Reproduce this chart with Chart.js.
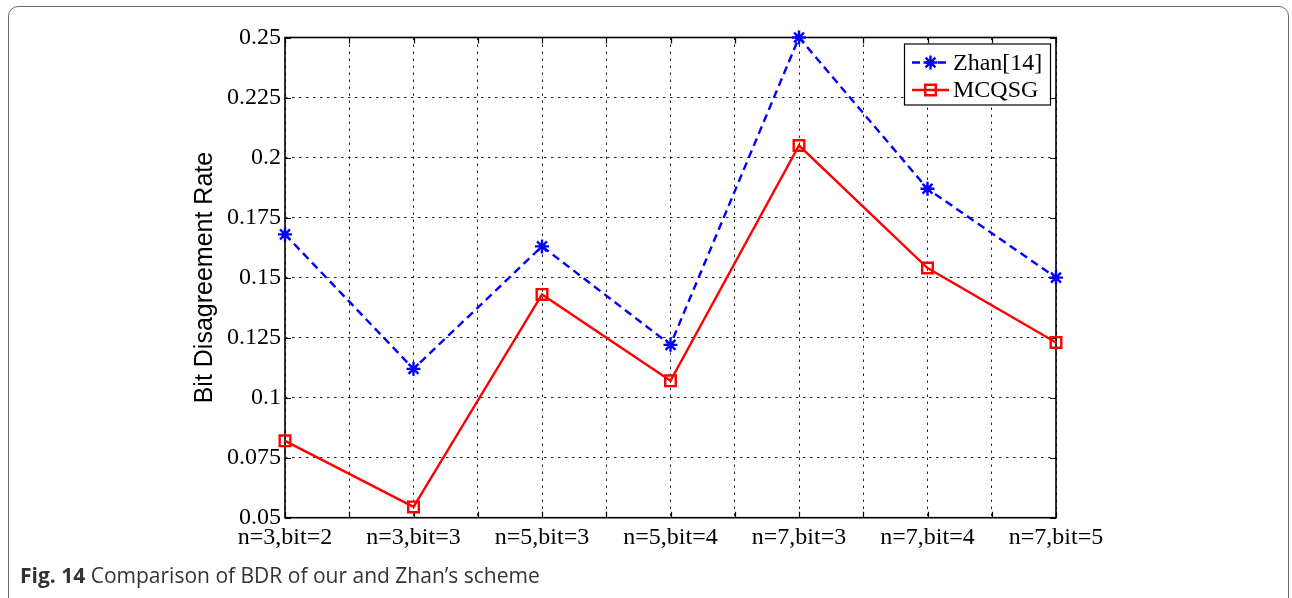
<!DOCTYPE html>
<html>
<head>
<meta charset="utf-8">
<script src="https://cdn.jsdelivr.net/npm/chart.js@4.4.0/dist/chart.umd.min.js"></script>
<style>
  html, body { margin: 0; padding: 0; background: #fff; overflow: hidden; width: 1292px; height: 598px; }
  #frame { position: absolute; left: 8px; top: 6px; width: 1281px; height: 720px;
           border: 1px solid #6b6b6b; border-radius: 10px; box-sizing: border-box; }
  #wrap { position: absolute; left: 0; top: 0; width: 1292px; height: 598px; }
  #caption { position: absolute; left: 20px; top: 561px; font-family: "Open Sans", sans-serif;
             font-size: 21px; color: #333; white-space: nowrap; }
  #caption b { font-weight: 700; }
</style>
</head>
<body>
<div id="frame"></div>
<div id="wrap"><canvas id="c" width="1292" height="598"></canvas></div>
<div id="caption"><b>Fig. 14</b> Comparison of BDR of our and Zhan’s scheme</div>
<script>
// Parameter settings on the x axis
const categories = ['n=3,bit=2', 'n=3,bit=3', 'n=5,bit=3', 'n=5,bit=4', 'n=7,bit=3', 'n=7,bit=4', 'n=7,bit=5'];
// Bit disagreement rate of each scheme
const zhanValues  = [0.168, 0.112, 0.163, 0.122, 0.250, 0.187, 0.150];
const mcqsgValues = [0.082, 0.0545, 0.143, 0.107, 0.205, 0.154, 0.123];
const seriesNames = ['Zhan[14]', 'MCQSG'];
// y axis range and tick spacing
const yMin = 0.05, yMax = 0.25, yStep = 0.025;

const serif = '"Liberation Serif", "Times New Roman", serif';
const sans = '"Liberation Sans", Arial, sans-serif';

const toPoints = vals => vals.map((v, i) => ({ x: i + 1, y: v }));

// Axes box with inward tick marks on all four sides
const framePlugin = {
  id: 'frame',
  beforeDatasetsDraw(chart) {
    const { ctx, chartArea: a, scales: { x, y } } = chart;
    const len = 6;
    ctx.save();
    ctx.strokeStyle = '#000';
    ctx.lineWidth = 1.2;
    ctx.beginPath();
    x.ticks.forEach(t => {
      const px = Math.round(x.getPixelForValue(t.value)) + 0.5;
      ctx.moveTo(px, a.bottom); ctx.lineTo(px, a.bottom - len);
      ctx.moveTo(px, a.top); ctx.lineTo(px, a.top + len);
    });
    y.ticks.forEach(t => {
      const py = Math.round(y.getPixelForValue(t.value)) + 0.5;
      ctx.moveTo(a.left, py); ctx.lineTo(a.left + len, py);
      ctx.moveTo(a.right, py); ctx.lineTo(a.right - len, py);
    });
    ctx.stroke();
    ctx.lineWidth = 1.6;
    ctx.strokeRect(a.left, a.top, a.right - a.left, a.bottom - a.top);
    ctx.restore();
  }
};

// Boxed legend in the upper right corner of the plot
const legendPlugin = {
  id: 'boxLegend',
  afterDraw(chart) {
    const { ctx, chartArea: a } = chart;
    const boxR = a.right - 6, boxT = a.top + 6, boxW = 146, boxH = 61;
    const boxL = boxR - boxW;
    ctx.save();
    ctx.fillStyle = '#fff';
    ctx.fillRect(boxL, boxT, boxW, boxH);
    ctx.strokeStyle = '#000';
    ctx.lineWidth = 1.2;
    ctx.strokeRect(boxL + 0.5, boxT + 0.5, boxW, boxH);
    chart.data.datasets.forEach((ds, i) => {
      const cy = boxT + 19 + i * 27.5;
      const x0 = boxL + 8, x1 = boxL + 45, cx = (x0 + x1) / 2;
      ctx.save();
      ctx.strokeStyle = ds.borderColor;
      ctx.lineWidth = ds.borderWidth;
      ctx.setLineDash(ds.borderDash || []);
      ctx.beginPath(); ctx.moveTo(x0, cy); ctx.lineTo(x1, cy); ctx.stroke();
      ctx.restore();
      ctx.save();
      ctx.strokeStyle = ds.pointBorderColor;
      ctx.fillStyle = ds.pointBackgroundColor;
      ctx.lineWidth = ds.pointBorderWidth;
      Chart.helpers.drawPoint(ctx, { pointStyle: ds.pointStyle, radius: ds.pointRadius,
                                     borderWidth: ds.pointBorderWidth, rotation: 0 }, cx, cy);
      ctx.restore();
      ctx.fillStyle = '#000';
      ctx.font = '24px ' + serif;
      ctx.textBaseline = 'middle';
      ctx.textAlign = 'left';
      ctx.fillText(ds.label, x1 + 4, cy + 1);
    });
    ctx.restore();
  }
};

new Chart(document.getElementById('c'), {
  type: 'line',
  data: {
    datasets: [
      {
        label: seriesNames[0],
        data: toPoints(zhanValues),
        borderColor: '#0000ff',
        backgroundColor: '#0000ff',
        borderWidth: 2.4,
        borderDash: [8, 5],
        pointStyle: 'star',
        pointRadius: 7,
        pointBorderWidth: 2.4,
        pointBorderColor: '#0000ff',
        pointBackgroundColor: '#0000ff',
        tension: 0,
        clip: false
      },
      {
        label: seriesNames[1],
        data: toPoints(mcqsgValues),
        borderColor: '#ff0000',
        backgroundColor: 'rgba(0,0,0,0)',
        borderWidth: 2.4,
        pointStyle: 'rect',
        pointRadius: 7.5,
        pointBorderWidth: 2.4,
        pointBorderColor: '#ff0000',
        pointBackgroundColor: 'rgba(0,0,0,0)',
        tension: 0,
        clip: false
      }
    ]
  },
  options: {
    responsive: false,
    animation: false,
    devicePixelRatio: 1,
    layout: { padding: { left: 0, top: 37.5, right: 236, bottom: 40.3 } },
    plugins: { legend: { display: false }, tooltip: { enabled: false } },
    scales: {
      x: {
        type: 'linear',
        min: 1, max: 7,
        afterFit: s => { s.height = 40; },
        afterBuildTicks: s => {
          s.ticks = [];
          for (let v = 1; v <= 7.0001; v += 0.5) s.ticks.push({ value: v });
        },
        ticks: {
          autoSkip: false, maxRotation: 0, minRotation: 0, padding: 6,
          color: '#000', font: { family: serif, size: 24 },
          callback: v => Number.isInteger(v) ? categories[v - 1] : ''
        },
        grid: { color: 'rgba(0,0,0,0.85)', lineWidth: 1, drawTicks: false },
        border: { display: false, dash: [2.5, 4.5] }
      },
      y: {
        type: 'linear',
        min: yMin, max: yMax,
        afterFit: s => { s.width = 285; },
        ticks: {
          stepSize: yStep, padding: 4,
          color: '#000', font: { family: serif, size: 24 },
          callback: v => String(Math.round(v * 1000) / 1000)
        },
        grid: { color: 'rgba(0,0,0,0.85)', lineWidth: 1, drawTicks: false },
        border: { display: false, dash: [2.5, 4.5] },
        title: {
          display: true, text: 'Bit Disagreement Rate', color: '#000',
          font: { family: sans, size: 25, lineHeight: 1.2 },
          padding: { top: 190, bottom: 0 }
        }
      }
    }
  },
  plugins: [framePlugin, legendPlugin]
});
</script>
</body>
</html>
